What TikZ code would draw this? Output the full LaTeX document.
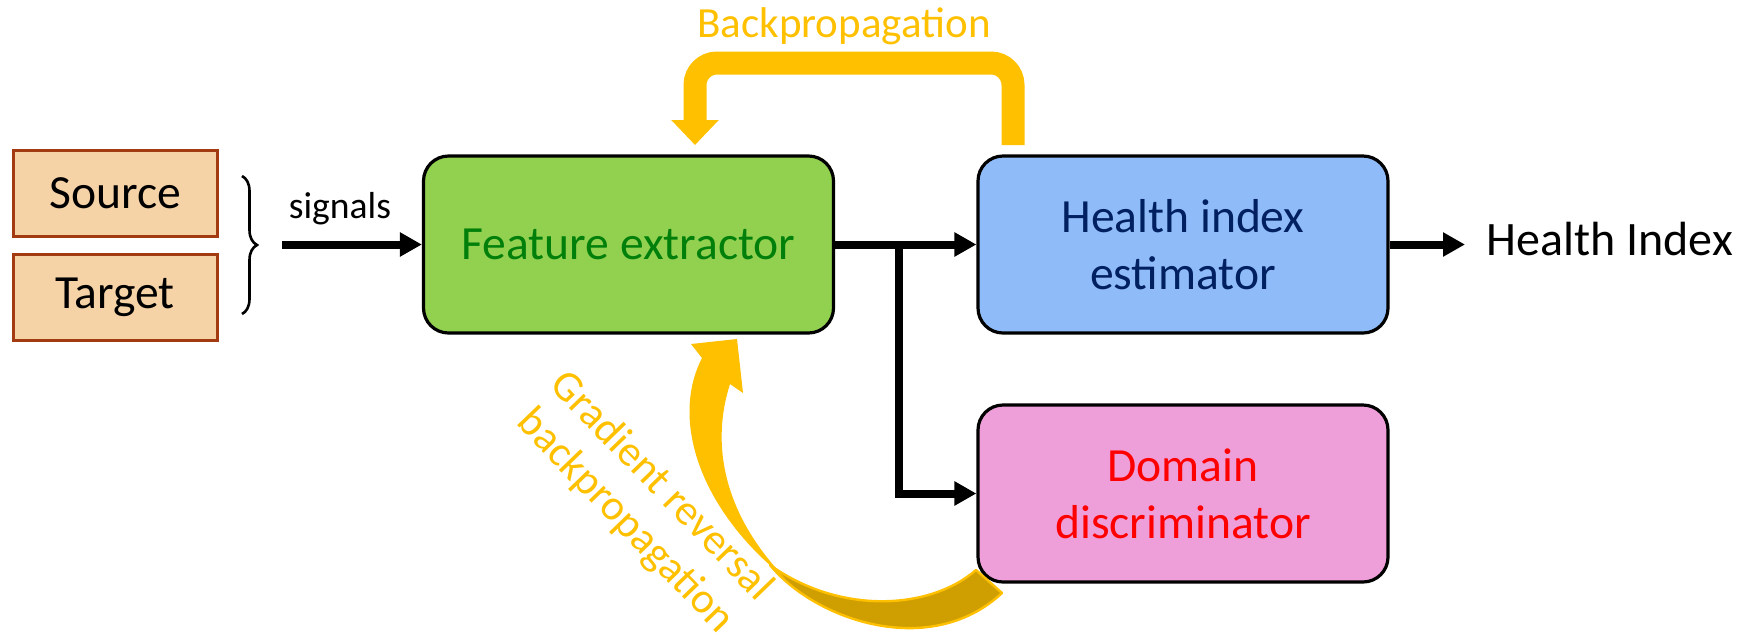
\documentclass[tikz,border=0pt]{standalone}
\usepackage{fontspec}
\setmainfont{Carlito}
\usetikzlibrary{arrows.meta,calc,decorations.pathreplacing}
\definecolor{gold}{HTML}{FFC000}
\definecolor{darkgold}{HTML}{CF9E00}
\definecolor{tanfill}{HTML}{F6D3A7}
\definecolor{tanborder}{HTML}{A33B12}
\definecolor{featfill}{HTML}{92D050}
\definecolor{feattext}{HTML}{00800A}
\definecolor{hifill}{HTML}{8FBBF8}
\definecolor{hitext}{HTML}{002060}
\definecolor{domfill}{HTML}{EE9FD9}
\definecolor{domtext}{HTML}{FF0000}
\begin{document}
\begin{tikzpicture}[x=0.5pt,y=-0.5pt,
  bigfont/.style={font=\fontsize{23.8}{28.5}\selectfont},
  inbox/.style={draw=tanborder, fill=tanfill, line width=1.5pt, minimum width=102pt, minimum height=43pt, bigfont, inner sep=0pt},
  blockbox/.style={draw=black, line width=1.6pt, rounded corners=12.5pt, minimum width=205pt, minimum height=88.5pt, bigfont, align=center, inner sep=0pt},
  blk/.style={draw=black, line width=4pt, -{Triangle[length=11pt,width=11.5pt]}},
  goldtext/.style={text=gold, font=\fontsize{21.5}{25}\selectfont, inner sep=0pt}
]
\useasboundingbox (0,0) rectangle (1740,634);

% input boxes
\node[inbox] (src) at (115,193) {Source};
\node[inbox] (tgt) at (115,297) {Target};

% brace
\draw[line width=1.3pt, decorate, decoration={brace, amplitude=7.5pt}] (242,176) -- (242,314);

% signals
\node[anchor=base, inner sep=0pt, font=\fontsize{18.8}{22}\selectfont] (sig) at (340,218) {signals};
\coordinate (sigstart) at (282,244.5);

% main blocks
\node[blockbox, fill=featfill, text=feattext] (feat) at (628.5,244.5) {Feature extractor};
\node[blockbox, fill=hifill, text=hitext] (hi) at (1183,244.5) {Health index\\estimator};
\node[blockbox, fill=domfill, text=domtext] (dom) at (1183,493.5) {Domain\\discriminator};

% output text
\node[anchor=base west, inner sep=0pt, font=\fontsize{24}{28.5}\selectfont] (out) at (1486,255) {Health Index};

% black connectors
\draw[blk] (sigstart) -- (feat.west);
\draw[blk] (feat.east) -- (hi.west);
\coordinate (br) at ($(feat.east)!0.455!(hi.west)$);
\draw[blk] (br) |- (dom.west);
\draw[blk, shorten >=10.5pt] (hi.east) -- (hi.east -| out.west);

% backpropagation arrow
\node[goldtext, anchor=base] (bptext) at (844,37) {Backpropagation};
\coordinate (bpS) at (1013,145);
\coordinate (bpE) at (695,145);
\draw[gold, line width=11.5pt, rounded corners=11pt, -{Triangle[length=12.5pt,width=23pt]}]
  (bpS) -- (1013,63) -- (695,63) -- (bpE);

% gradient reversal curved arrow
\fill[darkgold, draw=gold, line width=1.2pt, line join=round]
  (770,565) .. controls (815,620) and (930,660) .. (1002,593)
  -- (976,570) .. controls (930,610) and (840,615) .. (770,565) -- cycle;
\fill[gold]
  (691,344) -- (737,339) -- (743,393) -- (730,384)
  .. controls (712,440) and (720,510) .. (785,578)
  .. controls (700,510) and (670,420) .. (702,358) -- cycle;

\node[goldtext, rotate=-46, align=center] (grtext) at (643,504) {Gradient reversal\\backpropagation};
\end{tikzpicture}
\end{document}
